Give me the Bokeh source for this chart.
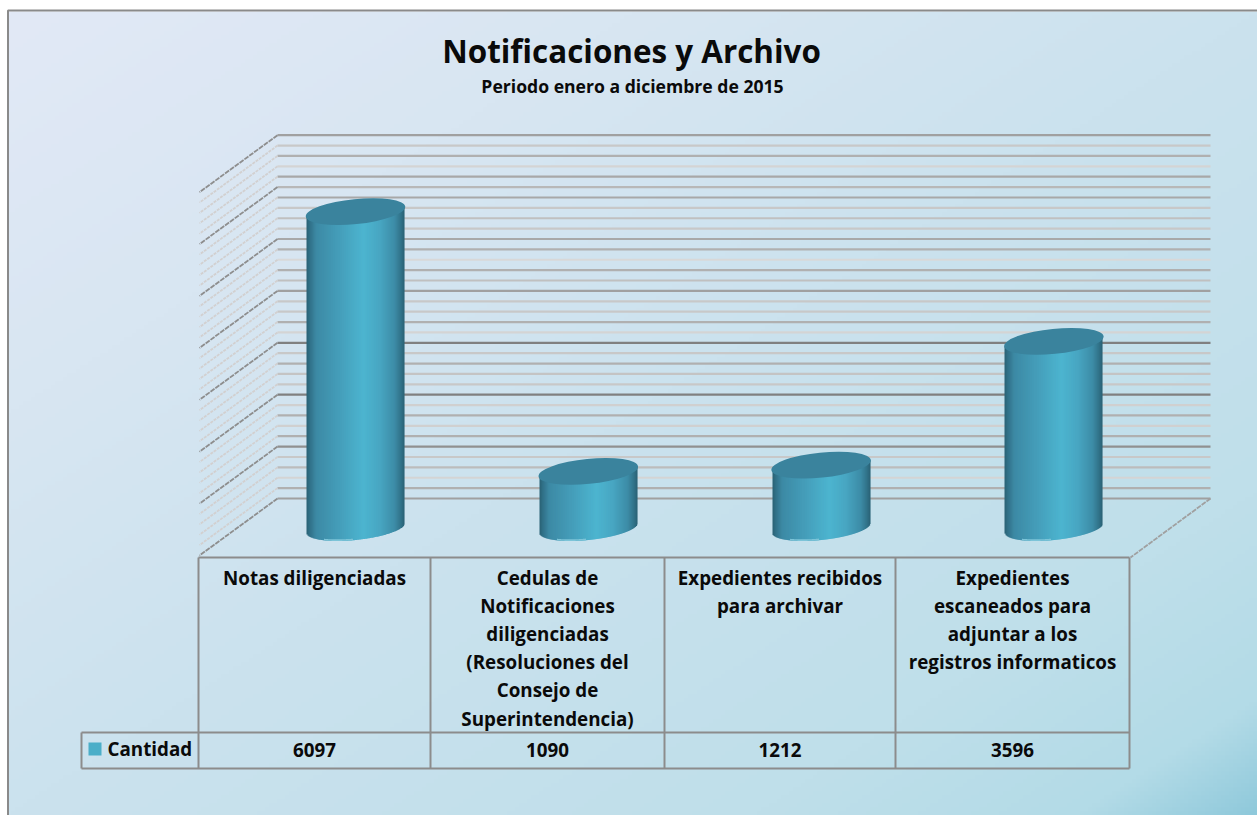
import numpy as np
from bokeh.plotting import figure
from bokeh.models import Range1d
from bokeh.core.properties import value
from bokeh.embed import file_html
from bokeh.resources import INLINE

# ---- data ----
title_text = "Notificaciones y Archivo"
subtitle_text = "Periodo enero a diciembre de 2015"
series_name = "Cantidad"
categories = [
    ["Notas diligenciadas"],
    ["Cedulas de", "Notificaciones", "diligenciadas", "(Resoluciones del", "Consejo de", "Superintendencia)"],
    ["Expedientes recibidos", "para archivar"],
    ["Expedientes", "escaneados para", "adjuntar a los", "registros informaticos"],
]
values = [6097, 1090, 1212, 3596]
grid_step = 200
grid_max = 7000
grid_colors = ["#a0a0a0", "#c8c8c8", "#b0b0b0", "#d4d4d4", "#a8a8a8", "#b8b8b8", "#a8a8a8", "#c8c8c8", "#c0c0c0",
               "#c8c8c8", "#a8a8a8", "#b0b0b0", "#d8d8d8", "#b0b0b0", "#c0c0c0", "#a0a0a0", "#c8c8c8", "#c8c8c8",
               "#b0b0b0", "#d4d4d4", "#808080", "#c8c8c8", "#b0b0b0", "#c4c4c4", "#c8c8c8", "#808080", "#d0d0d0",
               "#b0b0b0", "#d0d0d0", "#b0b0b0", "#909090", "#c8c8c8", "#bcbcbc", "#d4d4d4", "#b0b0b0", "#a0a0a0"]

# ---- layout ----
W, H = 1257, 815
k = 0.0519            # pixels per unit
base_py = 527.5       # front floor line of the bars
back_shift = 29.5 / k # wall depth, in value units
wall_dx, wall_dy = 78, 57
col_edges = [198, 430, 664, 895, 1129]
bar_first, bar_step, bar_w = 355, 232.8, 98
line_color = "#8c8c8c"
font = value("Open Sans")

p = figure(width=W, height=H, output_backend="svg", toolbar_location=None,
           x_range=Range1d(0, W), y_range=Range1d(H, 0),
           min_border=0, x_axis_type=None, y_axis_type=None, outline_line_color=None,
           background_fill_color="#ffffff", border_fill_color="#ffffff")
p.grid.visible = False
p.extra_y_ranges = {"value": Range1d((base_py - H) / k, base_py / k)}

# ---- background gradient ----
stops_t = [0, .25, .5, .8, .93, 1]
stops_c = np.array([[0xe2, 0xe9, 0xf6], [0xd8, 0xe6, 0xf2], [0xcb, 0xe2, 0xee],
                    [0xbf, 0xdf, 0xea], [0xb3, 0xdb, 0xe7], [0x8f, 0xc9, 0xdb]], dtype=float)
gh, gw = 200, 310
yy, xx = np.mgrid[0:gh, 0:gw]
t = (xx / (gw - 1) + yy / (gh - 1)) / 2
img = np.zeros((gh, gw), dtype=np.uint32)
view = img.view(np.uint8).reshape((gh, gw, 4))
for c in range(3):
    view[:, :, c] = np.interp(t, stops_t, stops_c[:, c]).astype(np.uint8)
view[:, :, 3] = 255
p.image_rgba(image=[img], x=7, y=11, dw=W - 7, dh=H - 11)

# frame
p.line(x=[7.5, 7.5, W], y=[H, 10, 10], line_color="#8a8a8a", line_width=2)

# ---- back wall, side wall ----
gv = np.arange(0, grid_max + grid_step, grid_step)
gy = gv + back_shift
colors = list(reversed(grid_colors))
p.segment(x0=277, y0=gy, x1=1210, y1=gy, line_color=colors, line_width=2.2, y_range_name="value")
gd = gy - wall_dy / k
for gval, yi, yo in zip(gv, gy, gd):
    major = gval % 1000 == 0
    p.line(x=[277, 277 - wall_dx], y=[yi, yo], line_color="#8e8e8e" if major else "#d2d0d0", line_width=1.8,
           line_dash="5 1" if major else "3 1", y_range_name="value")
# floor right edge
p.line(x=[1210, 1130], y=[back_shift, back_shift - 59 / k], line_color="#a0a0a0", line_width=1.8,
       line_dash="5 1", y_range_name="value")

# ---- cylinders ----
g_pos = [0, .03, .1, .3, .58, .75, .9, .97, 1]
g_col = np.array([[0x2b, 0x60, 0x74], [0x30, 0x70, 0x86], [0x3d, 0x8a, 0xa5], [0x44, 0x9b, 0xb7], [0x4d, 0xb5, 0xd0],
                  [0x48, 0xa6, 0xc2], [0x3d, 0x8c, 0xa7], [0x30, 0x70, 0x86], [0x2b, 0x60, 0x74]])
tilt = 0.1
semi_h = 12
for i, v in enumerate(values):
    cx = bar_first + i * bar_step
    left = np.arange(round(cx - bar_w / 2), round(cx + bar_w / 2))
    right = left + 1.6
    right[-1] = left[-1] + 1
    dx = left + 0.5 - cx
    f = (left + .5 - left[0]) / bar_w
    cols = ["#%02x%02x%02x" % tuple(int(np.interp(u, g_pos, g_col[:, c])) for c in range(3)) for u in f]
    top = v + tilt * dx / k
    bottom = (tilt * dx - semi_h * np.sqrt(np.clip(1 - (dx / (bar_w / 2)) ** 2, 0, 1))) / k
    p.quad(left=left, right=right, top=top, bottom=bottom, fill_color=cols, line_color=None,
           y_range_name="value")
    # pale reflection along the lowest part of the base
    hl = (dx > -32) & (dx < -2)
    p.line(x=left[hl] + .5, y=bottom[hl] + 0.8 / k, line_color="#7cc4d8", line_width=1.6, y_range_name="value")
caps_x = [bar_first + i * bar_step for i in range(len(values))]
p.ellipse(x=caps_x, y=values, width=bar_w + 2, height=25, angle=tilt, width_units="screen", height_units="screen",
          fill_color="#3a839d", line_color=None, y_range_name="value")

# ---- data table ----
table_top, row_top, row_bottom, table_left = 557, 732, 768, 81
p.segment(x0=col_edges, y0=table_top, x1=col_edges, y1=row_bottom, line_color=line_color, line_width=2)
p.segment(x0=[col_edges[0], table_left, table_left], y0=[table_top, row_top, row_bottom],
          x1=[col_edges[-1], col_edges[-1], col_edges[-1]], y1=[table_top, row_top, row_bottom],
          line_color=line_color, line_width=2)
p.segment(x0=table_left, y0=row_top, x1=table_left, y1=row_bottom, line_color=line_color, line_width=2)

fs = "18.8px"
for i, lines in enumerate(categories):
    cx = (col_edges[i] + col_edges[i + 1]) / 2
    ys = [577 + 28.2 * j for j in range(len(lines))]
    p.text(x=[cx] * len(lines), y=ys, text=lines, text_font=font, text_font_style="bold", text_font_size=fs,
           text_align="center", text_baseline="middle", text_color="#0a0a0a")
    p.text(x=[cx], y=[749.5], text=[str(values[i])], text_font=font, text_font_style="bold", text_font_size=fs,
           text_align="center", text_baseline="middle", text_color="#0a0a0a")

# legend key
p.quad(left=[88], right=[101], top=[742], bottom=[755], fill_color="#4baec8", line_color=None)
p.text(x=[107], y=[748], text=[series_name], text_font=font, text_font_style="bold", text_font_size=fs,
       text_align="left", text_baseline="middle", text_color="#0a0a0a")

# titles
p.text(x=[631], y=[50], text=[title_text], text_font=font, text_font_style="bold", text_font_size="31.4px",
       text_align="center", text_baseline="middle", text_color="#0a0a0a")
p.text(x=[632], y=[85], text=[subtitle_text], text_font=font, text_font_style="bold", text_font_size="17.6px",
       text_align="center", text_baseline="middle", text_color="#0a0a0a")

open("out.html", "w").write(file_html(p, INLINE))
